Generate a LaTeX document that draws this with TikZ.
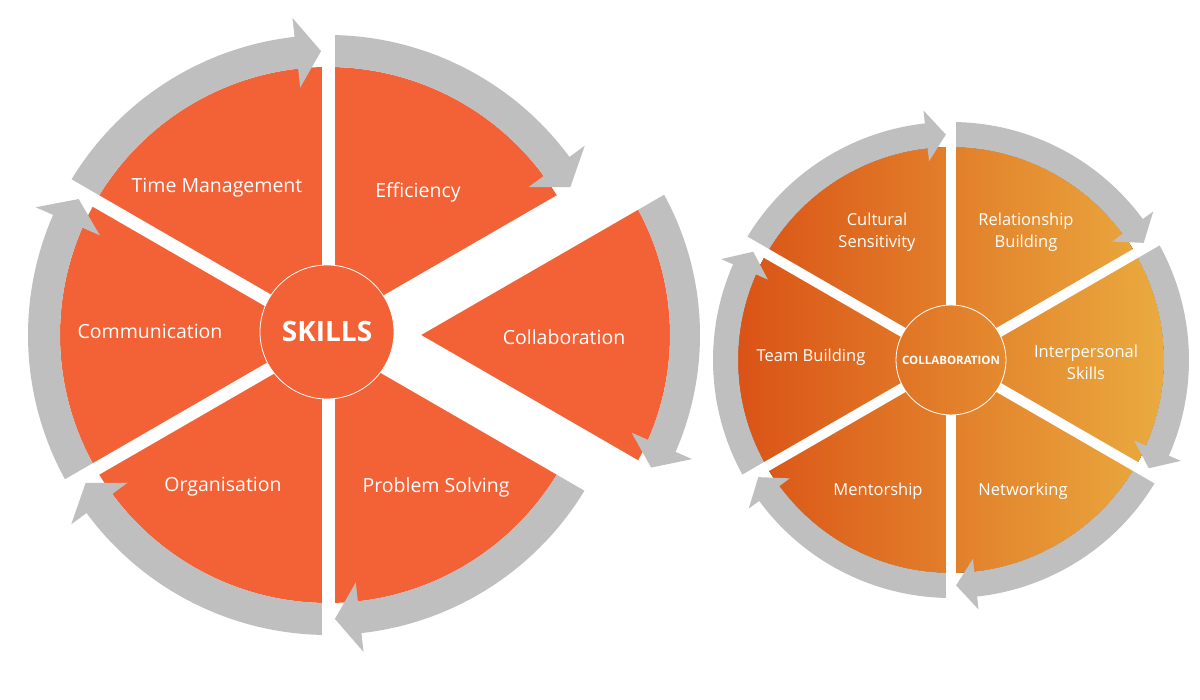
\documentclass[tikz,border=0pt]{standalone}
\usepackage{fontspec}
\setmainfont{Open Sans}
\usetikzlibrary{calc}
\definecolor{skillorange}{HTML}{F26236}
\definecolor{ringgray}{HTML}{BFBFBF}
\definecolor{gradleft}{HTML}{DA5316}
\definecolor{gradright}{HTML}{EAAB3F}
% center, tail angle, tip angle, inner r, outer r, barb extension, head angle
\newcommand{\mkringarrow}[7]{%
 \begin{scope}[shift={(#1)}]
 \fill[ringgray] ({#2}:{#4}) arc[start angle={#2}, end angle={#3+#7}, radius={#4}]
   -- ({#3+#7}:{#4-#6}) -- ({#3}:{(#4+#5)/2}) -- ({#3+#7}:{#5+#6}) -- ({#3+#7}:{#5})
   arc[start angle={#3+#7}, end angle={#2}, radius={#5}] -- cycle;
 \end{scope}}
% center, a1, a2, radius, colour
\newcommand{\mksector}[5]{%
 \fill[#5, shift={(#1)}] (0,0) -- ({#2}:{#4}) arc[start angle={#2}, end angle={#3}, radius={#4}] -- cycle;}
% center, angle, r0, r1, width
\newcommand{\mkgap}[5]{%
 \draw[white, line width=#5, shift={(#1)}] ({#2}:{#3}) -- ({#2}:{#4});}
\tikzset{
 lbl/.style={text=white, inner sep=0pt, font=\fontsize{19.5}{24}\selectfont},
 rlbl/.style={text=white, inner sep=0pt, align=center, font=\fontsize{16.5}{22}\selectfont},
}
\begin{document}
\begin{tikzpicture}[x=1pt,y=1pt]
\useasboundingbox (0,0) rectangle (1200,700);
\coordinate (L) at (328,365);
\coordinate (Lx) at (408,365);
\coordinate (Rc) at (951,340);

% ---------- left wheel ----------
\foreach \a in {30,90,150,210,270} {\mksector{L}{\a}{\a+60}{268}{skillorange}}
\mksector{Lx}{-30}{30}{262}{skillorange}
\foreach \a in {150,90,210,270,330} {\mkringarrow{L}{\a}{\a-58.6}{268}{300}{19}{5}}
\mkringarrow{Lx}{30}{-28.6}{262}{292}{18}{5}
\foreach \a in {30,90,150,210,270,330} {\mkgap{L}{\a}{0}{345}{13}}
\mkgap{Lx}{30}{0}{330}{13}
\mkgap{Lx}{-30}{0}{330}{13}
\node[circle, fill=skillorange, draw=white, line width=0.8pt, minimum size=134pt, inner sep=0pt,
      text=white, font=\fontsize{28}{32}\selectfont\bfseries] (skills) at (327,368) {SKILLS};

\node[lbl] (time) at (217,512) {Time Management};
\node[lbl] (eff) at (418,508) {Efficiency};
\node[lbl] (comm) at (150,369) {Communication};
\node[lbl] (collabL) at (564,363) {Collaboration};
\node[lbl] (org) at (223,213) {Organisation};
\node[lbl] (prob) at (436,213) {Problem Solving};

% ---------- right wheel ----------
\fill[left color=gradleft, right color=gradright] (Rc) circle[radius=213];
\foreach \a in {150,90,30,-30,-90,-150} {\mkringarrow{Rc}{\a}{\a-58.7}{213}{238}{13}{5}}
\foreach \a in {30,90,150,210,270,330} {\mkgap{Rc}{\a}{55}{260}{10}}
\node[circle, draw=white, line width=0.8pt, minimum size=110pt, inner sep=0pt,
      text=white, font=\fontsize{11.5}{13}\selectfont\bfseries] (collabR) at (Rc) {COLLABORATION};

\node[rlbl] (cult) at (877,468) {Cultural\\Sensitivity};
\node[rlbl] (rel) at (1026,468) {Relationship\\Building};
\node[rlbl] (team) at (811,343) {Team Building};
\node[rlbl] (inter) at (1086,338) {Interpersonal\\Skills};
\node[rlbl] (ment) at (878,209) {Mentorship};
\node[rlbl] (net) at (1023,209) {Networking};
\end{tikzpicture}
\end{document}
